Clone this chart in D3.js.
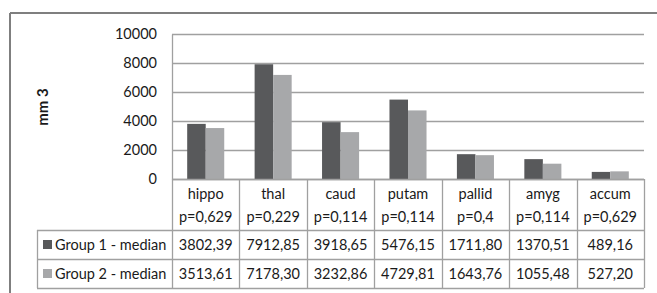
<!DOCTYPE html>
<html>
<head>
<meta charset="utf-8">
<script src="https://cdn.jsdelivr.net/npm/d3@7"></script>
<style>
  body { margin: 0; background: #fff; }
  text { font-family: Lato, "Open Sans", sans-serif; fill: #1a1a1a; }
</style>
</head>
<body>
<div class="chart"></div>
<script>
var regions = ["hippo", "thal", "caud", "putam", "pallid", "amyg", "accum"];
var pvalues = ["p=0,629", "p=0,229", "p=0,114", "p=0,114", "p=0,4", "p=0,114", "p=0,629"];
var group1 = [3802.39, 7912.85, 3918.65, 5476.15, 1711.80, 1370.51, 489.16];
var group2 = [3513.61, 7178.30, 3232.86, 4729.81, 1643.76, 1055.48, 527.20];
var seriesNames = ["Group 1 - median", "Group 2 - median"];
var yTicks = [0, 2000, 4000, 6000, 8000, 10000];

var W = 657, H = 293;
var plot = {left: 172, right: 644, top: 34, bottom: 179};
var tableRows = [230, 259, 288];
var tableLeft = 37;

var colors = ["#58595b", "#a7a8aa"];
var lineColor = "#a0a0a0";

var svg = d3.select(".chart").append("svg")
    .attr("width", W)
    .attr("height", H);

// outer frame (top + left visible)
svg.append("line").attr("x1", 10).attr("x2", W).attr("y1", 13).attr("y2", 13)
    .attr("stroke", "#7f7f7f").attr("stroke-width", 2);
svg.append("line").attr("x1", 10).attr("x2", 10).attr("y1", 13).attr("y2", H)
    .attr("stroke", "#7f7f7f").attr("stroke-width", 2);

var xScale = d3.scaleBand()
    .domain(regions)
    .range([plot.left, plot.right]);

var inner = d3.scaleBand()
    .domain([0, 1])
    .range([0, xScale.bandwidth()])
    .paddingOuter(0.82)
    .paddingInner(0);

var yScale = d3.scaleLinear()
    .domain([0, 10000])
    .range([plot.bottom, plot.top]);

// gridlines
svg.append("g").selectAll("line")
    .data(yTicks)
    .enter().append("line")
    .attr("x1", plot.left).attr("x2", plot.right)
    .attr("y1", d => Math.round(yScale(d)) + 0.5)
    .attr("y2", d => Math.round(yScale(d)) + 0.5)
    .attr("stroke", lineColor).attr("stroke-width", 1.3);

// y axis
var yAxis = d3.axisLeft(yScale).tickValues(yTicks).tickSize(0).tickPadding(15)
    .tickFormat(d3.format("d"));
var ya = svg.append("g")
    .attr("transform", "translate(" + plot.left + ",0)")
    .call(yAxis);
ya.select(".domain").attr("stroke", lineColor).attr("stroke-width", 1.3);
ya.selectAll("text").style("font-size", "14.5px").attr("fill", "#1a1a1a")
    .style("font-family", "Lato, sans-serif");

svg.append("text")
    .attr("transform", "translate(48,107) rotate(-90)")
    .attr("text-anchor", "middle")
    .style("font-size", "15px")
    .style("font-weight", "bold")
    .text("mm 3");

// bars
var data = [group1, group2];
data.forEach(function(series, s) {
  svg.append("g").selectAll("rect")
    .data(series)
    .enter().append("rect")
    .attr("x", (d, i) => xScale(regions[i]) + inner(s))
    .attr("y", d => yScale(d))
    .attr("width", inner.bandwidth())
    .attr("height", d => plot.bottom - yScale(d))
    .attr("fill", colors[s]);
});

// data table
var table = svg.append("g");
table.append("line").attr("x1", plot.left).attr("x2", plot.right)
    .attr("y1", plot.bottom + 0.5).attr("y2", plot.bottom + 0.5)
    .attr("stroke", lineColor).attr("stroke-width", 1.3);
table.selectAll(".hrow")
    .data(tableRows)
    .enter().append("line")
    .attr("class", "hrow")
    .attr("x1", tableLeft).attr("x2", plot.right)
    .attr("y1", d => d + 0.5).attr("y2", d => d + 0.5)
    .attr("stroke", lineColor).attr("stroke-width", 1.3);
var xEdges = regions.map(r => xScale(r)).concat([plot.right]);
table.selectAll(".vcol")
    .data(xEdges)
    .enter().append("line")
    .attr("class", "vcol")
    .attr("x1", d => Math.round(d) + 0.5).attr("x2", d => Math.round(d) + 0.5)
    .attr("y1", plot.bottom).attr("y2", tableRows[2])
    .attr("stroke", lineColor).attr("stroke-width", 1.3);
table.append("line")
    .attr("x1", tableLeft + 0.5).attr("x2", tableLeft + 0.5)
    .attr("y1", tableRows[0]).attr("y2", tableRows[2])
    .attr("stroke", lineColor).attr("stroke-width", 1.3);

// header cells
table.selectAll(".cat")
    .data(regions)
    .enter().append("text")
    .attr("class", "cat")
    .attr("x", d => xScale(d) + xScale.bandwidth() / 2)
    .attr("y", 199)
    .attr("text-anchor", "middle")
    .style("font-size", "14.5px")
    .text(d => d);
table.selectAll(".pv")
    .data(pvalues)
    .enter().append("text")
    .attr("class", "pv")
    .attr("x", (d, i) => xScale(regions[i]) + xScale.bandwidth() / 2)
    .attr("y", 222)
    .attr("text-anchor", "middle")
    .style("font-size", "14.5px")
    .text(d => d);

var fmt = v => v.toFixed(2).replace(".", ",");
data.forEach(function(series, s) {
  var rowY = tableRows[s] + 20;
  table.append("rect")
    .attr("x", 43).attr("y", rowY - 10)
    .attr("width", 9).attr("height", 9)
    .attr("fill", colors[s]);
  table.append("text")
    .attr("x", 55).attr("y", rowY)
    .style("font-size", "14.5px")
    .text(seriesNames[s]);
  table.selectAll(".v" + s)
    .data(series)
    .enter().append("text")
    .attr("x", (d, i) => xScale(regions[i]) + xScale.bandwidth() / 2)
    .attr("y", rowY)
    .attr("text-anchor", "middle")
    .style("font-size", "14.5px")
    .text(d => fmt(d));
});
</script>
</body>
</html>
